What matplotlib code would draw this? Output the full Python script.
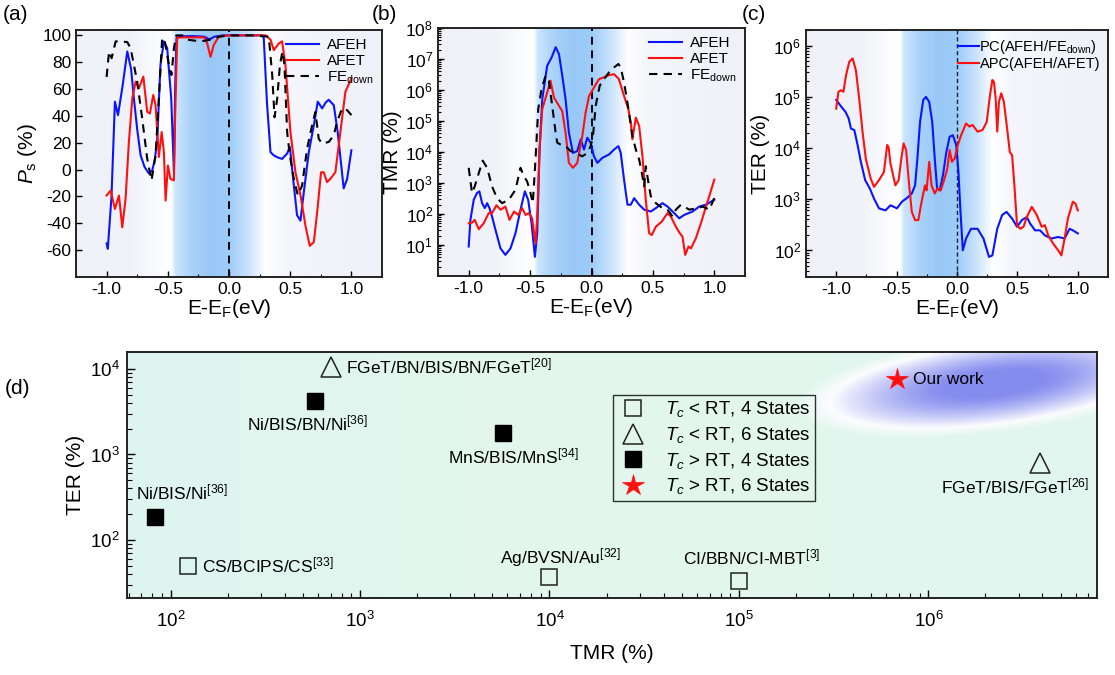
import numpy as np
import matplotlib
matplotlib.use("Agg")
import matplotlib.pyplot as plt
from matplotlib.ticker import LogLocator, MultipleLocator, NullFormatter

plt.rcParams['font.family'] = ['Liberation Sans', 'DejaVu Sans']
plt.rcParams['mathtext.fontset'] = 'custom'
plt.rcParams['mathtext.rm'] = 'Liberation Sans'
plt.rcParams['mathtext.it'] = 'Liberation Sans:italic'
plt.rcParams['mathtext.bf'] = 'Liberation Sans:bold'
plt.rcParams['axes.unicode_minus'] = False

# ---------------- data: panel (a) spin polarization ----------------
a_afeh_x = [-1.0, -0.99, -0.96, -0.932, -0.907, -0.87, -0.831, -0.8, -0.777, -0.75, -0.722, -0.69, -0.654, -0.627,
            -0.605, -0.586, -0.56, -0.532, -0.505, -0.472, -0.45, -0.44, -0.429, -0.396, -0.3, -0.2, -0.16, -0.12,
            -0.05, 0.0, 0.1, 0.2, 0.27, 0.284, 0.31, 0.339, 0.366, 0.4, 0.434, 0.475, 0.497, 0.53, 0.556, 0.584,
            0.611, 0.652, 0.693, 0.725, 0.761, 0.79, 0.815, 0.856, 0.888, 0.937, 0.965, 1.0]
a_afeh_y = [-55, -59, -20, 50.6, 40.6, 62, 88, 75, 53, 30, 10.6, 2, -3, -0.6,
            8, 23, 78, 95.5, 90.5, 53, -2, 60, 98, 99.3, 99.5, 99, 97, 99,
            100, 100, 100, 100, 100, 98, 50, 13, 10.6, 9, 8, 12, 17, -12, -34, -38,
            -17, 13, 33, 50.6, 45.6, 50, 52, 48, 28, -14, -7, 14.4]
a_afet_x = [-1.0, -0.967, -0.932, -0.899, -0.872, -0.845, -0.818, -0.79, -0.763, -0.736, -0.7, -0.668, -0.646, -0.619,
            -0.6, -0.573, -0.55, -0.532, -0.518, -0.499, -0.478, -0.45, -0.44, -0.423, -0.396, -0.3, -0.2, -0.178,
            -0.151, -0.124, -0.083, 0.0, 0.1, 0.2, 0.3, 0.312, 0.339, 0.366, 0.407, 0.434, 0.461, 0.502, 0.543,
            0.584, 0.625, 0.66, 0.693, 0.72, 0.752, 0.774, 0.801, 0.829, 0.869, 0.91, 0.951, 1.0]
a_afet_y = [-19.3, -15.6, -29.3, -19.3, -43, -21.8, 20.6, 53, 65.5, 60.6, 69.3, 43, 41.8, 55.6,
            48, 9.4, 28, 13, -23, 3, -7, -8, 40, 98, 98.5, 98.5, 98.5, 94,
            84, 93, 99, 100, 100, 100, 100, 99, 96.8, 89, 94, 95.5, 78, 28, -2,
            -19, -42, -56.8, -54, -32, -2, -2, -9.3, -6.8, -2, 28, 58, 68]
a_fed_x = [-1.0, -0.98, -0.959, -0.926, -0.886, -0.831, -0.804, -0.75, -0.709, -0.668, -0.633, -0.6, -0.573, -0.546,
           -0.527, -0.491, -0.47, -0.45, -0.431, -0.38, -0.342, -0.233, -0.15, -0.083, 0.0, 0.1, 0.2, 0.325, 0.353,
           0.372, 0.394, 0.416, 0.437, 0.453, 0.475, 0.497, 0.53, 0.562, 0.597, 0.638, 0.679, 0.706, 0.733, 0.76,
           0.815, 0.856, 0.883, 0.924, 0.965, 1.0]
a_fed_y = [69, 88, 83, 95.5, 95.5, 95, 90.5, 65.5, 38, 8, -8, 10.6, 53, 98,
           96.8, 78, 70.5, 90.5, 100, 100, 96.8, 95.5, 96.8, 99, 100, 100, 100, 99, 70.5,
           39, 53, 78, 88, 78, 28, 10.6, -7, -19, -12, 15.6, 33, 43, 23, 19.4,
           20.6, 25.6, 35.6, 45.6, 44.3, 40.6]

# ---------------- data: panel (b) TMR (log10 values) ----------------
b_afeh_x = [-1.0, -0.986, -0.959, -0.932, -0.913, -0.891, -0.869, -0.85, -0.831, -0.81, -0.782, -0.741, -0.701, -0.66,
            -0.619, -0.578, -0.543, -0.516, -0.488, -0.461, -0.442, -0.423, -0.401, -0.361, -0.325, -0.292, -0.265,
            -0.238, -0.211, -0.184, -0.151, -0.116, -0.088, -0.061, -0.034, -0.007, 0.02, 0.048, 0.088, 0.143, 0.184,
            0.219, 0.238, 0.265, 0.293, 0.32, 0.347, 0.388, 0.429, 0.483, 0.524, 0.578, 0.619, 0.673, 0.714, 0.755,
            0.823, 0.878, 0.932, 1.0]
b_afeh_lg = [0.95, 1.81, 2.46, 2.68, 2.73, 2.35, 2.19, 2.35, 2.19, 1.92, 1.49, 0.89, 0.68, 0.89,
             1.38, 2.14, 2.73, 2.46, 1.7, 0.62, 1.38, 4.08, 5.7, 6.78, 7.05, 7.38, 7.16,
             6.46, 5.7, 4.62, 3.97, 4.03, 4.41, 4.08, 4.46, 4.3, 3.86, 3.65, 3.81, 3.92, 4.08,
             4.19, 3.97, 3.11, 2.3, 2.3, 2.51, 2.3, 2.14, 2.08, 2.19, 2.35, 2.24, 2.03, 1.86, 1.97,
             2.08, 2.24, 2.3, 2.46]
b_afet_x = [-1.0, -0.973, -0.951, -0.918, -0.878, -0.837, -0.81, -0.774, -0.741, -0.701, -0.668, -0.631, -0.597,
            -0.565, -0.537, -0.51, -0.483, -0.456, -0.442, -0.423, -0.401, -0.361, -0.334, -0.306, -0.265, -0.238,
            -0.211, -0.184, -0.151, -0.116, -0.075, -0.048, -0.02, 0.02, 0.061, 0.102, 0.143, 0.184, 0.223, 0.265,
            0.3, 0.32, 0.333, 0.361, 0.388, 0.415, 0.442, 0.469, 0.491, 0.524, 0.573, 0.619, 0.646, 0.687, 0.719,
            0.741, 0.763, 0.79, 0.81, 0.85, 0.891, 0.932, 0.959, 1.0]
b_afet_lg = [1.7, 1.72, 1.81, 1.51, 1.7, 2.03, 2.03, 2.28, 2.14, 2.24, 1.81, 2.08, 1.97,
             2.19, 1.97, 2.03, 1.86, 1.05, 1.92, 4.08, 5.38, 5.92, 6.3, 5.76, 5.49, 5.32,
             4.62, 3.65, 3.49, 3.65, 4.51, 5.27, 5.81, 6.08, 6.35, 6.41, 6.48, 6.51, 6.35, 5.81,
             5.38, 4.95, 4.41, 5.11, 4.84, 3.86, 2.46, 1.38, 1.32, 1.59, 1.76, 2.03, 1.92, 1.59, 1.38,
             1.27, 0.68, 0.95, 0.89, 1.22, 1.7, 2.24, 2.57, 3.11]
b_fed_x = [-1.0, -0.973, -0.951, -0.918, -0.886, -0.85, -0.81, -0.769, -0.728, -0.673, -0.619, -0.578, -0.551,
           -0.524, -0.497, -0.478, -0.456, -0.434, -0.407, -0.374, -0.347, -0.32, -0.292, -0.279, -0.252, -0.211,
           -0.17, -0.129, -0.075, -0.034, -0.007, 0.012, 0.034, 0.067, 0.102, 0.143, 0.184, 0.219, 0.238, 0.265,
           0.293, 0.333, 0.361, 0.388, 0.41, 0.429, 0.442, 0.464, 0.483, 0.524, 0.578, 0.619, 0.66, 0.687, 0.728,
           0.796, 0.864, 0.905, 0.932, 0.959, 1.0]
b_fed_lg = [3.49, 2.68, 2.89, 3.32, 3.72, 3.49, 2.89, 2.51, 2.35, 2.46, 2.78, 3.49, 3.22,
            3.05, 2.68, 2.35, 3.76, 5.38, 6.03, 6.46, 6.3, 5.49, 4.62, 4.3, 4.24, 4.19,
            4.03, 3.97, 3.86, 3.97, 4.19, 4.51, 5.49, 6.14, 6.35, 6.57, 6.73, 6.84, 6.73, 6.24,
            5.59, 4.51, 4.08, 3.76, 3.32, 2.89, 3.54, 3.0, 2.57, 2.35, 2.19, 2.14, 1.92, 2.14, 2.3,
            2.14, 2.19, 2.24, 2.19, 2.14, 2.51]

# ---------------- data: panel (c) TER (log10 values) ----------------
c_pc_x = [-1.0, -0.959, -0.924, -0.897, -0.878, -0.85, -0.823, -0.796, -0.76, -0.722, -0.687, -0.646, -0.592, -0.551,
          -0.524, -0.497, -0.456, -0.415, -0.374, -0.347, -0.328, -0.306, -0.279, -0.257, -0.23, -0.205, -0.184,
          -0.165, -0.143, -0.116, -0.088, -0.061, -0.034, -0.007, 0.012, 0.029, 0.048, 0.075, 0.116, 0.17, 0.219,
          0.265, 0.293, 0.333, 0.374, 0.41, 0.456, 0.497, 0.537, 0.578, 0.606, 0.646, 0.687, 0.728, 0.782, 0.837,
          0.891, 0.932, 0.959, 1.0]
c_pc_lg = [4.94, 4.81, 4.71, 4.58, 4.38, 4.35, 4.06, 3.73, 3.37, 3.21, 3.01, 2.82, 2.78, 2.88,
           2.85, 2.82, 2.95, 3.02, 3.11, 3.27, 3.79, 4.51, 4.94, 5.0, 4.9, 4.51, 3.79,
           3.21, 3.17, 3.47, 3.92, 4.22, 4.25, 4.06, 3.53, 2.75, 2.0, 2.23, 2.42, 2.42, 2.23,
           1.87, 1.9, 2.42, 2.69, 2.75, 2.62, 2.46, 2.59, 2.65, 2.52, 2.39, 2.39, 2.29, 2.23, 2.26,
           2.23, 2.42, 2.39, 2.33]
c_apc_x = [-1.0, -0.981, -0.959, -0.94, -0.918, -0.891, -0.864, -0.837, -0.81, -0.782, -0.755, -0.714, -0.687,
           -0.646, -0.605, -0.578, -0.565, -0.551, -0.532, -0.51, -0.483, -0.461, -0.442, -0.421, -0.396, -0.374,
           -0.347, -0.32, -0.293, -0.265, -0.252, -0.23, -0.211, -0.184, -0.162, -0.135, -0.107, -0.08, -0.061,
           -0.042, -0.02, 0.007, 0.034, 0.075, 0.102, 0.129, 0.17, 0.211, 0.246, 0.273, 0.293, 0.306, 0.32, 0.333,
           0.347, 0.366, 0.388, 0.415, 0.437, 0.456, 0.475, 0.497, 0.524, 0.551, 0.578, 0.619, 0.66, 0.701, 0.728,
           0.755, 0.796, 0.837, 0.864, 0.891, 0.918, 0.959, 0.981, 1.0]
c_apc_lg = [4.77, 5.1, 5.13, 5.1, 5.43, 5.69, 5.75, 5.52, 4.97, 4.32, 3.79, 3.4, 3.24,
            3.37, 3.53, 4.06, 4.0, 3.7, 3.5, 3.27, 3.37, 3.79, 4.09, 3.96, 3.27, 2.75,
            2.59, 2.59, 2.95, 3.27, 3.17, 3.73, 3.27, 3.11, 3.21, 3.17, 3.37, 3.6, 3.96,
            3.73, 3.79, 4.06, 4.25, 4.48, 4.42, 4.45, 4.32, 4.35, 4.51, 5.03, 5.33, 5.29, 4.97, 4.32,
            4.9, 5.07, 4.9, 4.38, 3.92, 3.86, 3.27, 2.49, 2.42, 2.46, 2.65, 2.85, 2.69, 2.46, 2.49,
            2.29, 2.13, 2.0, 1.9, 2.23, 2.62, 2.95, 2.91, 2.78]

# ---------------- data: panel (d) comparison ----------------
d_names = ["Ni/BIS/Ni$^{[36]}$", "CS/BCIPS/CS$^{[33]}$", "FGeT/BN/BIS/BN/FGeT$^{[20]}$", "Ni/BIS/BN/Ni$^{[36]}$",
           "MnS/BIS/MnS$^{[34]}$", "Ag/BVSN/Au$^{[32]}$", "CI/BBN/CI-MBT$^{[3]}$", "Our work",
           "FGeT/BIS/FGeT$^{[26]}$"]
d_tmr = [83, 124, 700, 577, 5650, 10000, 100000, 680000, 3900000]
d_ter = [184, 50, 10700, 4260, 1770, 37, 33, 7600, 790]
d_kind = ["sq_f", "sq_o", "tri_o", "sq_f", "sq_f", "sq_o", "sq_o", "star", "tri_o"]
d_legend = ["$T_c$ < RT, 4 States", "$T_c$ < RT, 6 States", "$T_c$ > RT, 4 States", "$T_c$ > RT, 6 States"]

# ---------------- figure ----------------
fig = plt.figure(figsize=(11.15, 6.75), dpi=100)
W, H = 1115.0, 675.0


def add_ax(l, t, r, b):
    return fig.add_axes([l / W, 1 - b / H, (r - l) / W, (b - t) / H])


def band_bg(ax):
    f = np.linspace(0, 1, 800)
    xd = -1.25 + 2.5 * f
    sx = [-1.25, -0.8, -0.56, -0.47, -0.44, -0.3, -0.15, 0.0, 0.15, 0.3, 0.45, 1.25]
    sc = [(0.937, 0.945, 0.972), (0.945, 0.952, 0.978), (0.99, 0.99, 1.0), (1, 1, 1),
          (0.80, 0.90, 0.99), (0.66, 0.82, 0.975), (0.60, 0.785, 0.97), (0.62, 0.80, 0.975),
          (0.78, 0.885, 0.99), (1, 1, 1), (0.96, 0.965, 0.985), (0.937, 0.945, 0.972)]
    sc = np.array(sc)
    img = np.stack([np.interp(xd, sx, sc[:, k]) for k in range(3)], axis=-1)[None, :, :]
    ax.imshow(img, extent=[0, 1, 0, 1], transform=ax.transAxes, aspect='auto', zorder=0,
              interpolation='bilinear')


def style_top(ax):
    ax.set_xlim(-1.25, 1.25)
    ax.xaxis.set_major_locator(MultipleLocator(0.5))
    ax.xaxis.set_minor_locator(MultipleLocator(0.25))
    ax.tick_params(which='both', direction='in', top=False, right=False, labelsize=12.5)
    ax.tick_params(which='major', length=4, width=1)
    ax.tick_params(which='minor', length=2.5, width=0.8)
    for s in ax.spines.values():
        s.set_linewidth(1.4)
        s.set_color('#222222')
    ax.set_xlabel("E-E$_{\\rm F}$(eV)", fontsize=15, labelpad=0)


lw = 1.5
# panel (a)
ax1 = add_ax(76, 30, 382, 277)
band_bg(ax1)
ax1.plot(a_afeh_x, a_afeh_y, color='#0a14ff', lw=lw, label='AFEH', zorder=3)
ax1.plot(a_afet_x, a_afet_y, color='#ff1010', lw=lw, label='AFET', zorder=3)
ax1.plot(a_fed_x, a_fed_y, color='black', lw=lw, ls=(0, (4, 3)), label='FE$_{\\rm down}$', zorder=3)
ax1.axvline(0, color='black', ls=(0, (4, 3)), lw=1.4, zorder=2)
style_top(ax1)
ax1.set_ylim(-80, 104)
ax1.set_yticks(np.arange(-60, 101, 20))
ax1.set_ylabel("$P_{\\rm s}$ (%)", fontsize=15, labelpad=2)
ax1.legend(loc='upper right', fontsize=11, frameon=False, handlelength=2.2, labelspacing=0.1,
           borderaxespad=0.15, handletextpad=0.5)

# panel (b)
ax2 = add_ax(438, 28, 745, 276)
band_bg(ax2)
ax2.plot(b_afeh_x, 10 ** np.array(b_afeh_lg), color='#0a14ff', lw=lw, label='AFEH', zorder=3)
ax2.plot(b_afet_x, 10 ** np.array(b_afet_lg), color='#ff1010', lw=lw, label='AFET', zorder=3)
ax2.plot(b_fed_x, 10 ** np.array(b_fed_lg), color='black', lw=lw, ls=(0, (4, 3)), label='FE$_{\\rm down}$', zorder=3)
ax2.axvline(0, color='black', ls=(0, (4, 3)), lw=1.4, zorder=2)
ax2.set_yscale('log')
style_top(ax2)
ax2.set_ylim(1, 1e8)
ax2.set_yticks([10.0 ** k for k in range(1, 9)])
ax2.yaxis.set_minor_locator(LogLocator(base=10, subs=np.arange(2, 10), numticks=20))
ax2.yaxis.set_minor_formatter(NullFormatter())
ax2.set_ylabel("TMR (%)", fontsize=15, labelpad=2)
ax2.legend(loc='upper right', fontsize=11, frameon=False, handlelength=2.2, labelspacing=0.1,
           borderaxespad=0.15, handletextpad=0.5)

# panel (c)
ax3 = add_ax(806, 30, 1108, 277)
band_bg(ax3)
ax3.plot(c_pc_x, 10 ** np.array(c_pc_lg), color='#0a14ff', lw=lw, label='PC(AFEH/FE$_{\\rm down}$)', zorder=3)
ax3.plot(c_apc_x, 10 ** np.array(c_apc_lg), color='#ff1010', lw=lw, label='APC(AFEH/AFET)', zorder=3)
ax3.axvline(0, color='#222222', ls=(0, (3, 2)), lw=1.0, zorder=2)
ax3.set_yscale('log')
style_top(ax3)
ax3.set_ylim(30, 2.03e6)
ax3.set_yticks([10.0 ** k for k in range(2, 7)])
ax3.yaxis.set_minor_locator(LogLocator(base=10, subs=np.arange(2, 10), numticks=20))
ax3.yaxis.set_minor_formatter(NullFormatter())
ax3.set_ylabel("TER (%)", fontsize=15, labelpad=2)
ax3.legend(loc='upper right', fontsize=10.5, frameon=False, handlelength=1.5, labelspacing=0.1,
           borderaxespad=0.15, handletextpad=0.0)

# panel (d)
ax4 = add_ax(127, 352, 1097, 598)
ny, nx = 200, 600
fx, fy = np.meshgrid(np.linspace(0, 1, nx), np.linspace(0, 1, ny))
left_c = np.array([0.87, 0.958, 0.94])
right_c = np.array([0.885, 0.965, 0.935])
lift = 0.012 * np.exp(-((fx - 0.45) / 0.3) ** 2)[..., None]
base = left_c * (1 - fx[..., None]) + right_c * fx[..., None] + lift * np.array([1.0, 0.6, -0.6])
# soft blue blob behind "Our work" (pixel units)
u = (fx - 0.895) * 970
v = (fy - 0.87) * 246
th = np.deg2rad(7)
up = u * np.cos(th) + v * np.sin(th)
vp = -u * np.sin(th) + v * np.cos(th)
r = np.sqrt((up / 165) ** 2 + (vp / 40) ** 2)
blue = np.array([0.52, 0.55, 0.935])
white = np.array([0.99, 0.99, 1.0])
t1 = np.clip((r - 0.3) / 0.7, 0, 1)[..., None] ** 1.3
inner = blue * (1 - t1) + white * t1
t2 = np.clip((r - 1.0) / 0.22, 0, 1)[..., None]
outer = white * (1 - t2) + base * t2
img = np.clip(np.where(r[..., None] < 1.0, inner, outer), 0, 1)
ax4.imshow(img, extent=[0, 1, 0, 1], origin='lower', transform=ax4.transAxes, aspect='auto', zorder=0,
           interpolation='bilinear')
ax4.set_xscale('log')
ax4.set_yscale('log')

mk = {"sq_o": dict(marker='s', mfc='none', mec='#222222', ms=11, mew=1.1),
      "sq_f": dict(marker='s', mfc='black', mec='black', ms=11, mew=1.0),
      "tri_o": dict(marker='^', mfc='none', mec='#222222', ms=14, mew=1.1),
      "star": dict(marker='*', mfc='#ff1010', mec='#ff1010', ms=16, mew=0.5)}
# label offsets in points, relative to each marker
offs = [(19, 18, 'center'), (10, 0, 'left'), (11, 0, 'left'), (-5, -16, 'center'), (8, -17, 'center'),
        (8, 14, 'center'), (9, 17, 'center'), (12, 0, 'left'), (-18, -17, 'center')]
for i in range(len(d_names)):
    ax4.plot([d_tmr[i]], [d_ter[i]], ls='none', zorder=3, **mk[d_kind[i]])
    dx, dy, ha = offs[i]
    ax4.annotate(d_names[i], (d_tmr[i], d_ter[i]), xytext=(dx, dy), textcoords='offset points',
                 ha=ha, va='center', fontsize=12.5, zorder=4)

ax4.set_xlim(10 ** 1.77, 10 ** 6.89)
ax4.set_ylim(10 ** 1.32, 10 ** 4.2)
ax4.set_xticks([10.0 ** k for k in range(2, 7)])
ax4.set_yticks([1e2, 1e3, 1e4])
ax4.xaxis.set_minor_locator(LogLocator(base=10, subs=np.arange(2, 10), numticks=20))
ax4.yaxis.set_minor_locator(LogLocator(base=10, subs=np.arange(2, 10), numticks=20))
ax4.xaxis.set_minor_formatter(NullFormatter())
ax4.yaxis.set_minor_formatter(NullFormatter())
ax4.tick_params(which='both', direction='in', top=False, right=False, labelsize=13.5)
ax4.tick_params(axis='x', which='both', pad=9)
ax4.tick_params(axis='y', which='both', pad=5)
ax4.tick_params(which='major', length=6, width=1)
ax4.tick_params(which='minor', length=3.5, width=0.8)
for s in ax4.spines.values():
    s.set_linewidth(1.4)
    s.set_color('#222222')
ax4.set_xlabel("TMR (%)", fontsize=15, labelpad=10)
ax4.set_ylabel("TER (%)", fontsize=15, labelpad=4)

hd = [plt.Line2D([], [], ls='none', **mk[k]) for k in ["sq_o", "tri_o", "sq_f", "star"]]
leg = ax4.legend(hd, d_legend, loc='upper left', bbox_to_anchor=(0.501, 0.826), fontsize=13.5,
                 frameon=True, fancybox=False, edgecolor='black', facecolor='none', borderpad=0.25,
                 labelspacing=0.3, handletextpad=0.9, borderaxespad=0, handlelength=1.6)
leg.get_frame().set_linewidth(1.0)

fig.text(3 / W, 1 - 14 / H, "(a)", fontsize=15, va='center')
fig.text(372 / W, 1 - 14 / H, "(b)", fontsize=15, va='center')
fig.text(742 / W, 1 - 14 / H, "(c)", fontsize=15, va='center')
fig.text(5 / W, 1 - 388 / H, "(d)", fontsize=15, va='center')

fig.savefig("out.png", dpi=100)
